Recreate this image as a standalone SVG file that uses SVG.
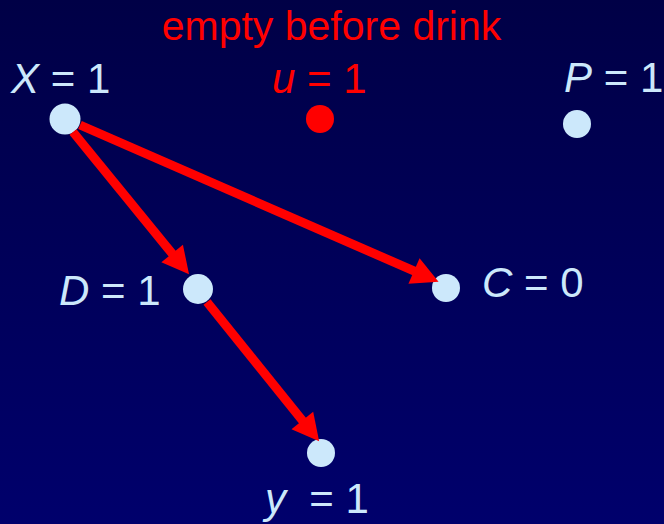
<svg xmlns="http://www.w3.org/2000/svg" width="664" height="524" viewBox="0 0 664 524">
<defs>
<linearGradient id="bg" x1="0" y1="0" x2="0" y2="1">
<stop offset="0" stop-color="#000046"/>
<stop offset="1" stop-color="#00006c"/>
</linearGradient>
<marker id="ah" markerUnits="userSpaceOnUse" markerWidth="30" markerHeight="30" viewBox="0 -14 26 28" refX="1" refY="0" orient="auto">
<path d="M0,-13 L25,0 L0,13 z" fill="#ff0000"/>
</marker>
<style>
.lbl{font-family:"Liberation Sans",Arial,sans-serif;font-size:42px;fill:#cce8fb;white-space:pre}
.red{fill:#ff0000}
.it{font-style:italic}
.node{fill:#cce8fb}
.conn{stroke:#ff0000;stroke-width:9;fill:none;marker-end:url(#ah)}
</style>
</defs>
<rect width="664" height="524" fill="url(#bg)"/>
<text class="lbl red" x="331.5" y="40" text-anchor="middle" style="font-size:41px">empty before drink</text>
<g id="nodeX"><circle class="node" cx="65" cy="119" r="15.5"/><text class="lbl" x="11" y="93"><tspan class="it">X</tspan> = 1</text></g>
<g id="nodeU"><circle cx="320" cy="119" r="14" fill="#ff0000"/><text class="lbl red" x="272" y="93"><tspan class="it">u</tspan> = 1</text></g>
<g id="nodeP"><circle class="node" cx="577" cy="124" r="14"/><text class="lbl" x="564" y="92"><tspan class="it">P</tspan> = 1</text></g>
<g id="nodeD"><circle class="node" cx="198" cy="289" r="15"/><text class="lbl" x="59" y="305"><tspan class="it">D</tspan> = 1</text></g>
<g id="nodeC"><circle class="node" cx="446" cy="288" r="14"/><text class="lbl" x="482" y="297"><tspan class="it">C</tspan> = 0</text></g>
<g id="nodeY"><circle class="node" cx="321" cy="453" r="14"/><text class="lbl" x="265" y="513"><tspan class="it">y</tspan>  = 1</text></g>
<g id="connectors">
<line class="conn" x1="73" y1="132" x2="172.8" y2="254.4"/>
<line class="conn" x1="80" y1="125" x2="415" y2="271.4"/>
<line class="conn" x1="207" y1="302" x2="303" y2="421.3"/>
</g>
</svg>
